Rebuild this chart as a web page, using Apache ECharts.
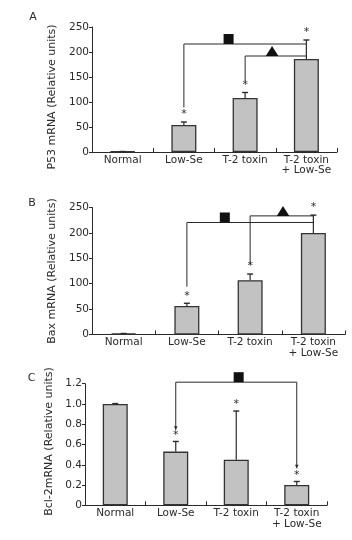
<!DOCTYPE html>
<html><head><meta charset="utf-8">
<script src="https://cdn.jsdelivr.net/npm/echarts@6/dist/echarts.min.js"></script>
<style>html,body{margin:0;padding:0;background:#fff}#c{width:352px;height:540px}</style>
</head><body><div id="c"></div>
<script>
// ---- data ----
const categories = ['Normal', 'Low-Se', 'T-2 toxin', 'T-2 toxin\n+ Low-Se'];
const panelLetters = ['A', 'B', 'C'];
const yTitles = ['P53 mRNA (Relative units)', 'Bax mRNA (Relative units)', 'Bcl-2mRNA (Relative units)'];

const p53Mean = [1, 54, 108, 186];
const p53Err  = [0, 6, 11, 38];
const p53Sig  = [0, 1, 1, 1];

const baxMean = [2, 56, 107, 200];
const baxErr  = [0, 5.5, 12, 35];
const baxSig  = [0, 1, 1, 1];

const bcl2Mean = [1.0, 0.53, 0.45, 0.20];
const bcl2Err  = [0.004, 0.10, 0.48, 0.035];
const bcl2Sig  = [0, 1, 1, 1];

const p53Ticks = [0, 250, 50];
const baxTicks = [0, 250, 50];
const bcl2Ticks = [0, 1.2, 0.2];

// significance brackets: from/to category, level value, drop ends, marker position (category units)
const p53Brackets = [
  {from: 1, to: 3, level: 216, dropFrom: 89, dropTo: null, markAt: 1.73, mark: 'square'},
  {from: 2, to: 3, level: 192, dropFrom: 141, dropTo: null, markAt: 2.44, mark: 'triangle'}
];
const baxBrackets = [
  {from: 1, to: 3, level: 220.5, dropFrom: 94, dropTo: null, markAt: 1.60, mark: 'square'},
  {from: 2, to: 3, level: 233.5, dropFrom: 138, dropTo: null, markAt: 2.52, mark: 'triangle'}
];
const bcl2Brackets = [
  {from: 1, to: 3, level: 1.215, dropFrom: 0.745, dropTo: 0.365, markAt: 2.04, mark: 'square', arrow: true}
];

// ---- chart ----
const FONT = 'DejaVu Sans';
const INK = '#2a2a2a';
const panels = [
  {mean: p53Mean, err: p53Err, sig: p53Sig, ticks: p53Ticks, brackets: p53Brackets, dec: 0},
  {mean: baxMean, err: baxErr, sig: baxSig, ticks: baxTicks, brackets: baxBrackets, dec: 0},
  {mean: bcl2Mean, err: bcl2Err, sig: bcl2Sig, ticks: bcl2Ticks, brackets: bcl2Brackets, dec: 1}
];
const gridBoxes = [
  {left: 92, right: 15, top: 27, height: 125},
  {left: 92, right: 7, top: 207.5, height: 127},
  {left: 85, right: 25, top: 383.7, height: 121.6}
];
const nameGaps = [34, 34, 27];
const namePads = [[0, 15, 0, 0], [0, 0, 0, 0], [0, 0, 0, 6]];
const letterPos = [[33, 17], [32, 203], [31.5, 378]];
const starGap = [7.5, 7.5, 6.5];

const grid = [], xAxis = [], yAxis = [], series = [], graphic = [];

panels.forEach((p, i) => {
  grid.push(Object.assign({containLabel: false}, gridBoxes[i]));
  xAxis.push({
    gridIndex: i, type: 'category', data: categories,
    axisLine: {show: true, lineStyle: {color: INK, width: 1}},
    axisTick: {show: true, inside: true, length: 4, lineStyle: {color: INK}},
    axisLabel: {interval: 0, margin: 3, fontFamily: FONT, fontSize: 10.5, lineHeight: 10.5, color: INK},
    splitLine: {show: false}
  });
  yAxis.push({
    gridIndex: i, type: 'value', min: p.ticks[0], max: p.ticks[1], interval: p.ticks[2],
    name: yTitles[i], nameLocation: 'middle', nameRotate: 90, nameGap: nameGaps[i],
    nameTextStyle: {fontFamily: FONT, fontSize: 11, color: INK, padding: namePads[i]},
    axisLine: {show: true, lineStyle: {color: INK, width: 1}},
    axisTick: {show: true, length: 3, lineStyle: {color: INK}},
    axisLabel: {margin: 3, fontFamily: FONT, fontSize: 10.5, color: INK,
      formatter: v => v === 0 ? '0' : v.toFixed(p.dec)},
    splitLine: {show: false}
  });
  series.push({
    type: 'bar', xAxisIndex: i, yAxisIndex: i, data: p.mean, barWidth: 25,
    itemStyle: {color: '#c2c2c2', borderColor: '#333', borderWidth: 1.3}, z: 2,
    silent: true
  });
  series.push({
    type: 'custom', xAxisIndex: i, yAxisIndex: i, z: 3, silent: true,
    encode: {x: 0, y: 1},
    data: p.mean.map((m, k) => [k, m, p.err[k], p.sig[k]]),
    renderItem: (params, api) => {
      const k = api.value(0), m = api.value(1), e = api.value(2), s = api.value(3);
      const b = api.coord([k, m]), t = api.coord([k, m + e]);
      const ch = [
        {type: 'line', shape: {x1: b[0], y1: b[1], x2: t[0], y2: t[1]}, style: {stroke: INK, lineWidth: 1.2}},
        {type: 'line', shape: {x1: t[0] - 3, y1: t[1], x2: t[0] + 3, y2: t[1]}, style: {stroke: INK, lineWidth: 1.4}}
      ];
      if (s) ch.push({type: 'text', z2: 10, style: {text: '*', x: t[0], y: t[1] - starGap[i], align: 'center', verticalAlign: 'middle',
        fontFamily: FONT, fontSize: 11, fill: INK}});
      return {type: 'group', children: ch};
    }
  });
  series.push({
    type: 'custom', xAxisIndex: i, yAxisIndex: i, z: 4, silent: true, clip: false,
    encode: {x: 0, y: 1},
    data: p.brackets.map(b => [b.from, b.level]),
    renderItem: (params, api) => {
      const b = p.brackets[params.dataIndex];
      const p1 = api.coord([b.from, b.level]), p2 = api.coord([b.to, b.level]);
      const d1 = api.coord([b.from, b.dropFrom]);
      const pts = [[p1[0], d1[1]], [p1[0], p1[1]], [p2[0], p2[1]]];
      let d2 = null;
      if (b.dropTo != null) { d2 = api.coord([b.to, b.dropTo]); pts.push([p2[0], d2[1]]); }
      const ch = [{type: 'polyline', shape: {points: pts}, style: {stroke: INK, lineWidth: 1, fill: null}}];
      const bw = api.size([1, 0])[0];
      const mx = api.coord([0, b.level])[0] + b.markAt * bw;
      const ly = p1[1];
      if (b.mark === 'square') {
        ch.push({type: 'rect', shape: {x: mx - 5, y: ly - 10, width: 10, height: 10}, style: {fill: '#111'}});
      } else {
        ch.push({type: 'polygon', shape: {points: [[mx - 6.3, ly], [mx + 6.3, ly], [mx, ly - 10]]}, style: {fill: '#111'}});
      }
      if (b.arrow) {
        const ends = [d1];
        if (d2) ends.push(d2);
        ends.forEach(e => ch.push({type: 'polygon', shape: {points: [[e[0] - 1.8, e[1] - 3.5], [e[0] + 1.8, e[1] - 3.5], [e[0], e[1]]]}, style: {fill: INK}}));
      }
      return {type: 'group', children: ch};
    }
  });
  graphic.push({type: 'text', x: letterPos[i][0], y: letterPos[i][1],
    style: {text: panelLetters[i], fontFamily: FONT, fontSize: 11, fill: INK, align: 'center', verticalAlign: 'middle'}});
});

const chart = echarts.init(document.getElementById('c'), null, {renderer: 'canvas'});
chart.setOption({animation: false, backgroundColor: '#fff', grid, xAxis, yAxis, series, graphic});
</script>
</body></html>
